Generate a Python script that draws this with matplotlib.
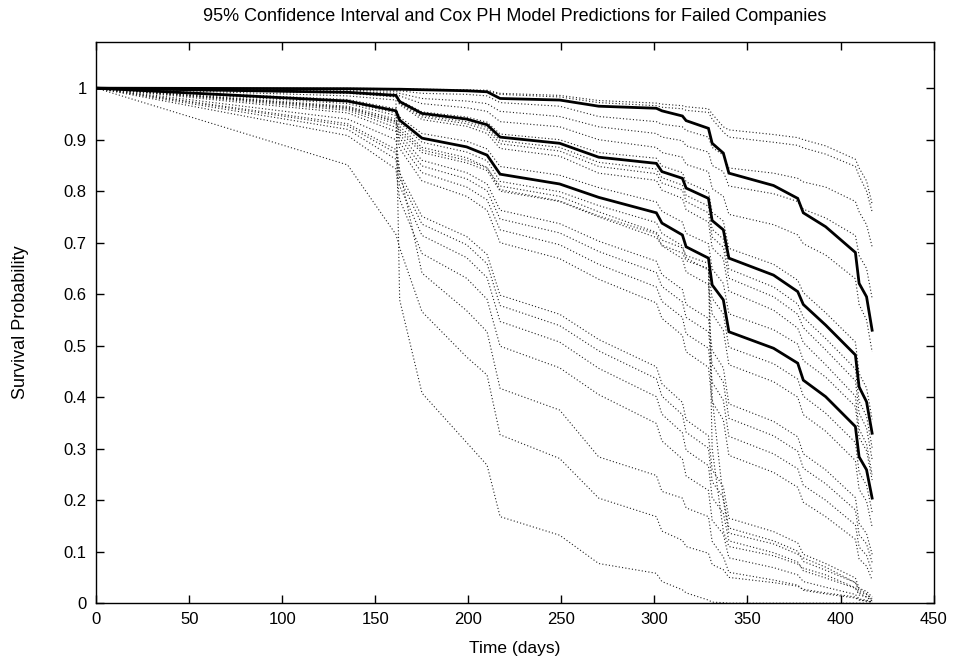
import matplotlib
matplotlib.use("Agg")
import matplotlib.pyplot as plt

plt.rcParams['font.family'] = ['Liberation Sans', 'DejaVu Sans']

# event times where the curves bend (days)
days = [0, 135, 161, 163, 175, 199, 210, 217, 249, 270, 301, 304, 315, 317,
        329, 331, 337, 340, 364, 377, 380, 392, 408, 410, 414, 417]

# solid: model prediction and its 95% confidence bounds
upper_ci = [1.0, 0.999, 0.998, 0.998, 0.997, 0.995, 0.993, 0.980, 0.977, 0.965, 0.961, 0.956, 0.946,
            0.937, 0.922, 0.893, 0.874, 0.835, 0.811, 0.786, 0.758, 0.731, 0.681, 0.621, 0.595, 0.530]
prediction = [1.0, 0.992, 0.986, 0.974, 0.951, 0.940, 0.929, 0.905, 0.893, 0.866, 0.854, 0.838, 0.825,
              0.806, 0.786, 0.743, 0.725, 0.670, 0.637, 0.605, 0.580, 0.540, 0.482, 0.420, 0.391, 0.330]
lower_ci = [1.0, 0.975, 0.956, 0.938, 0.903, 0.886, 0.870, 0.833, 0.814, 0.788, 0.758, 0.738, 0.715,
            0.692, 0.670, 0.618, 0.589, 0.527, 0.495, 0.466, 0.433, 0.401, 0.343, 0.284, 0.259, 0.204]

# dotted: individual failed companies
comp_d1 = [1.0, 1.0, 0.999, 0.999, 0.998, 0.997, 0.996, 0.990, 0.986, 0.976, 0.971, 0.969, 0.966,
           0.964, 0.960, 0.950, 0.925, 0.919, 0.910, 0.904, 0.900, 0.888, 0.862, 0.845, 0.820, 0.775]
comp_d2 = [1.0, 0.999, 0.998, 0.997, 0.996, 0.995, 0.994, 0.988, 0.983, 0.972, 0.966, 0.963, 0.960,
           0.957, 0.953, 0.940, 0.915, 0.905, 0.895, 0.889, 0.884, 0.872, 0.848, 0.830, 0.800, 0.760]
comp_d3 = [1.0, 0.998, 0.997, 0.995, 0.990, 0.988, 0.985, 0.972, 0.965, 0.945, 0.935, 0.930, 0.925,
           0.918, 0.905, 0.885, 0.870, 0.845, 0.835, 0.825, 0.818, 0.808, 0.780, 0.760, 0.735, 0.692]
comp_d4 = [1.0, 0.996, 0.994, 0.990, 0.980, 0.975, 0.970, 0.955, 0.945, 0.925, 0.912, 0.905, 0.898,
           0.888, 0.876, 0.850, 0.838, 0.810, 0.795, 0.780, 0.765, 0.748, 0.714, 0.675, 0.650, 0.592]
comp_d5 = [1.0, 0.994, 0.990, 0.985, 0.970, 0.962, 0.955, 0.935, 0.925, 0.900, 0.885, 0.875, 0.866,
           0.852, 0.838, 0.805, 0.790, 0.755, 0.735, 0.715, 0.698, 0.676, 0.630, 0.580, 0.550, 0.488]
comp_m1 = [1.0, 0.993, 0.987, 0.976, 0.954, 0.944, 0.934, 0.911, 0.900, 0.875, 0.864, 0.849, 0.836,
           0.818, 0.799, 0.759, 0.742, 0.689, 0.658, 0.627, 0.603, 0.564, 0.507, 0.446, 0.418, 0.357]
comp_m2 = [1.0, 0.991, 0.985, 0.972, 0.947, 0.935, 0.924, 0.898, 0.885, 0.856, 0.843, 0.826, 0.812,
           0.792, 0.771, 0.726, 0.707, 0.649, 0.614, 0.581, 0.555, 0.514, 0.455, 0.392, 0.363, 0.302]
comp_m3 = [1.0, 0.991, 0.984, 0.970, 0.944, 0.931, 0.919, 0.892, 0.878, 0.848, 0.834, 0.816, 0.802,
           0.780, 0.758, 0.711, 0.691, 0.631, 0.595, 0.561, 0.535, 0.492, 0.432, 0.369, 0.340, 0.279]
comp_m4 = [1.0, 0.990, 0.983, 0.968, 0.939, 0.926, 0.912, 0.883, 0.868, 0.835, 0.821, 0.802, 0.786,
           0.764, 0.740, 0.690, 0.669, 0.606, 0.569, 0.534, 0.506, 0.463, 0.402, 0.338, 0.309, 0.250]
comp_l1 = [1.0, 0.978, 0.960, 0.944, 0.912, 0.897, 0.882, 0.848, 0.831, 0.807, 0.779, 0.761, 0.740,
           0.718, 0.698, 0.649, 0.621, 0.562, 0.531, 0.503, 0.471, 0.439, 0.382, 0.322, 0.296, 0.239]
comp_l2 = [1.0, 0.973, 0.952, 0.933, 0.895, 0.876, 0.859, 0.819, 0.799, 0.772, 0.739, 0.718, 0.694,
           0.670, 0.647, 0.592, 0.562, 0.497, 0.465, 0.435, 0.402, 0.369, 0.312, 0.254, 0.229, 0.177]
comp_l3 = [1.0, 0.970, 0.947, 0.926, 0.885, 0.865, 0.846, 0.803, 0.781, 0.752, 0.717, 0.694, 0.669,
           0.643, 0.619, 0.562, 0.530, 0.463, 0.430, 0.400, 0.366, 0.334, 0.277, 0.221, 0.198, 0.148]
comp_e1 = [1.0, 0.963, 0.936, 0.910, 0.860, 0.836, 0.814, 0.763, 0.737, 0.703, 0.664, 0.638, 0.609,
           0.580, 0.553, 0.491, 0.457, 0.387, 0.353, 0.323, 0.290, 0.259, 0.205, 0.155, 0.135, 0.095]
comp_e2 = [1.0, 0.960, 0.931, 0.903, 0.849, 0.824, 0.801, 0.746, 0.719, 0.683, 0.642, 0.615, 0.585,
           0.555, 0.527, 0.463, 0.429, 0.359, 0.325, 0.295, 0.262, 0.232, 0.181, 0.133, 0.115, 0.079]
comp_e3 = [1.0, 0.957, 0.924, 0.894, 0.836, 0.808, 0.783, 0.725, 0.696, 0.658, 0.614, 0.586, 0.555,
           0.523, 0.495, 0.429, 0.394, 0.324, 0.290, 0.261, 0.229, 0.200, 0.152, 0.109, 0.093, 0.061]
comp_e4 = [1.0, 0.952, 0.916, 0.883, 0.820, 0.790, 0.763, 0.700, 0.669, 0.629, 0.583, 0.553, 0.520,
           0.488, 0.458, 0.391, 0.356, 0.287, 0.254, 0.225, 0.196, 0.168, 0.124, 0.086, 0.072, 0.045]
comp_n1 = [1.0, 0.931, 0.881, 0.835, 0.751, 0.712, 0.677, 0.598, 0.561, 0.512, 0.459, 0.426, 0.390,
           0.356, 0.325, 0.259, 0.226, 0.165, 0.139, 0.117, 0.095, 0.077, 0.049, 0.029, 0.023, 0.012]
comp_n2 = [1.0, 0.927, 0.874, 0.825, 0.736, 0.696, 0.659, 0.578, 0.539, 0.490, 0.436, 0.402, 0.366,
           0.332, 0.301, 0.236, 0.205, 0.146, 0.121, 0.101, 0.081, 0.064, 0.040, 0.023, 0.017, 0.009]
comp_n3 = [1.0, 0.920, 0.862, 0.810, 0.714, 0.671, 0.632, 0.547, 0.507, 0.456, 0.401, 0.367, 0.331,
           0.297, 0.267, 0.205, 0.175, 0.121, 0.098, 0.080, 0.063, 0.049, 0.029, 0.016, 0.012, 0.005]
comp_n4 = [1.0, 0.908, 0.843, 0.784, 0.679, 0.631, 0.590, 0.499, 0.457, 0.405, 0.349, 0.315, 0.280,
           0.247, 0.219, 0.161, 0.134, 0.088, 0.069, 0.055, 0.042, 0.031, 0.017, 0.008, 0.006, 0.002]
comp_f1 = [1.0, 0.965, 0.940, 0.920, 0.880, 0.860, 0.845, 0.810, 0.790, 0.760, 0.720, 0.705, 0.690,
           0.675, 0.660, 0.400, 0.200, 0.136, 0.115, 0.095, 0.088, 0.070, 0.040, 0.028, 0.018, 0.006]
comp_f2 = [1.0, 0.962, 0.935, 0.915, 0.875, 0.855, 0.840, 0.800, 0.780, 0.750, 0.710, 0.695, 0.680,
           0.665, 0.650, 0.300, 0.140, 0.110, 0.092, 0.076, 0.068, 0.055, 0.030, 0.020, 0.012, 0.004]
comp_a = [1.0, 0.985, 0.977, 0.589, 0.408, 0.312, 0.268, 0.168, 0.132, 0.077, 0.058, 0.042, 0.026,
          0.020, 0.006, 0.002, 0.001, 0.0, 0.0, 0.0, 0.0, 0.0, 0.0, 0.0, 0.0, 0.0]
comp_b = [1.0, 0.851, 0.716, 0.690, 0.566, 0.478, 0.443, 0.327, 0.281, 0.204, 0.168, 0.140, 0.122,
          0.110, 0.097, 0.075, 0.065, 0.050, 0.040, 0.033, 0.027, 0.020, 0.012, 0.007, 0.004, 0.002]
comp_c = [1.0, 0.940, 0.900, 0.840, 0.641, 0.568, 0.527, 0.417, 0.375, 0.284, 0.248, 0.217, 0.204,
          0.185, 0.168, 0.120, 0.090, 0.060, 0.045, 0.035, 0.025, 0.018, 0.010, 0.006, 0.004, 0.002]

companies = [comp_d1, comp_d2, comp_d3, comp_d4, comp_d5,
             comp_m1, comp_m2, comp_m3, comp_m4,
             comp_l1, comp_l2, comp_l3,
             comp_e1, comp_e2, comp_e3, comp_e4,
             comp_n1, comp_n2, comp_n3, comp_n4,
             comp_f1, comp_f2, comp_a, comp_b, comp_c]

yticks = [0, 0.1, 0.2, 0.3, 0.4, 0.5, 0.6, 0.7, 0.8, 0.9, 1.0]
ytick_labels = ['0', '0.1', '0.2', '0.3', '0.4', '0.5', '0.6', '0.7', '0.8', '0.9', '1']
xticks = [0, 50, 100, 150, 200, 250, 300, 350, 400, 450]

fig = plt.figure(figsize=(9.55, 6.64), dpi=100)
ax = fig.add_subplot(111)
fig.subplots_adjust(left=0.101, right=0.9775, bottom=0.0916, top=0.937)

for surv in companies:
    ax.plot(days, surv, color='#222222', linewidth=0.8, linestyle=(0, (1, 2)))

for surv in [upper_ci, prediction, lower_ci]:
    ax.plot(days, surv, color='black', linewidth=2.0, solid_joinstyle='miter')

ax.set_xlim(0, 450)
ax.set_ylim(0, 1.09)
ax.set_xticks(xticks)
ax.set_yticks(yticks)
ax.set_yticklabels(ytick_labels)
ax.tick_params(direction='in', length=5.5, width=1, top=True, right=True,
               labelsize=12)
ax.tick_params(axis='x', pad=6)
ax.tick_params(axis='y', pad=7)
for sp in ax.spines.values():
    sp.set_linewidth(1.0)

ax.set_title('95% Confidence Interval and Cox PH Model Predictions for Failed Companies',
             fontsize=13, pad=15)
ax.set_xlabel('Time (days)', fontsize=12.5)
ax.set_ylabel('Survival Probability', fontsize=13)
ax.xaxis.set_label_coords(0.5, -0.067)
ax.yaxis.set_label_coords(-0.08, 0.5)

fig.savefig('out.png', dpi=100)
